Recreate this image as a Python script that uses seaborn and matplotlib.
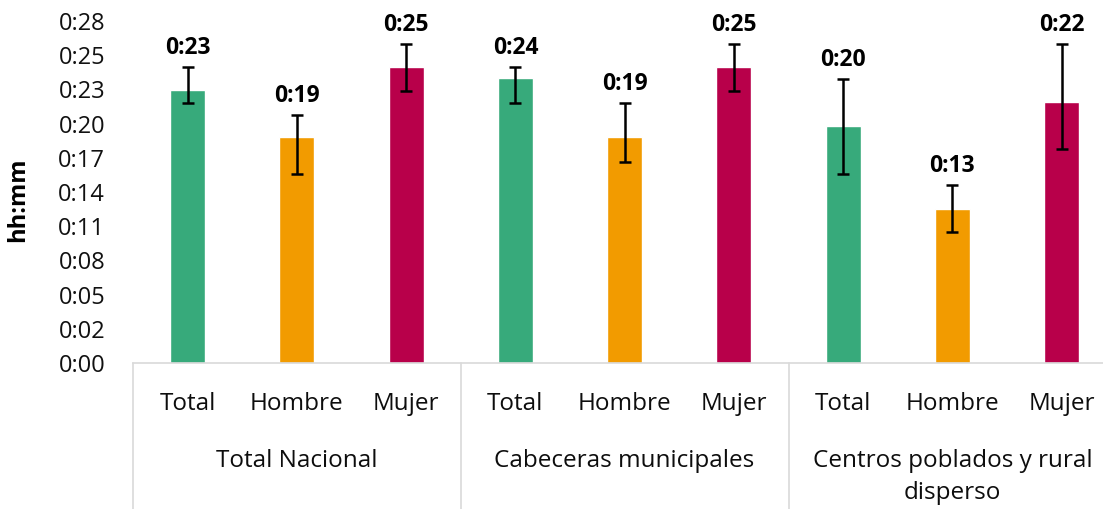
import matplotlib
matplotlib.use('Agg')
import matplotlib.pyplot as plt
import matplotlib.transforms as mtransforms
import seaborn as sns
import pandas as pd
import numpy as np

# datos (minutos)
grupos = ['Total Nacional', 'Cabeceras municipales', 'Centros poblados y rural\ndisperso']
sexos = ['Total', 'Hombre', 'Mujer']
valores = [23.0, 19.0, 24.9, 24.0, 19.0, 24.9, 20.0, 13.0, 22.0]
lim_inf = [21.9, 15.9, 22.9, 21.9, 16.9, 22.9, 15.9, 11.0, 18.0]
lim_sup = [24.9, 20.9, 26.9, 24.9, 21.9, 26.9, 23.9, 15.0, 26.9]
ytick_lbl = ['0:00', '0:02', '0:05', '0:08', '0:11', '0:14', '0:17', '0:20', '0:23', '0:25', '0:28']

colores = {'Total': '#37AA7B', 'Hombre': '#F29B00', 'Mujer': '#B8004A'}

sns.set_style('white')
plt.rcParams['font.family'] = ['Open Sans', 'DejaVu Sans']

df = pd.DataFrame({'grupo': np.repeat(grupos, 3), 'sexo': sexos * 3, 'min': valores})
df['slot'] = df['grupo'] + '|' + df['sexo']

fig = plt.figure(figsize=(11.03, 5.09), dpi=100)
ax = fig.add_axes([133 / 1103, 1 - 363 / 509, 983.25 / 1103, 342 / 509])

sns.barplot(data=df, x='slot', y='min', hue='sexo', palette=colores, dodge=False,
            width=0.32, saturation=1, errorbar=None, legend=False, ax=ax)

x = np.arange(len(valores))
v = np.array(valores)
ax.errorbar(x, v, yerr=[v - np.array(lim_inf), np.array(lim_sup) - v], fmt='none',
            ecolor='black', elinewidth=1.8, capsize=4.3, capthick=1.8)

for xi, hi, val in zip(x, lim_sup, valores):
    ax.annotate(f"0:{round(val):02d}", (xi, hi), xytext=(0, 5), textcoords='offset points',
                ha='center', va='bottom', fontsize=16.5, fontweight='bold', color='black')

ticks = np.arange(len(ytick_lbl)) * 2.88
ax.set_ylim(0, ticks[-1])
ax.set_yticks(ticks)
ax.set_yticklabels(ytick_lbl, fontsize=17, color='#111111')
ax.set_xlim(-0.5, 8.5)
ax.set_xticks(x)
ax.set_xticklabels(sexos * 3, fontsize=17.5, color='#0d0d0d')
ax.tick_params(axis='y', length=0, pad=20)
ax.tick_params(axis='x', length=0, pad=21)
ax.set_xlabel('')
ax.set_ylabel('')

for s in ['top', 'right', 'left']:
    ax.spines[s].set_visible(False)
ax.spines['bottom'].set_color('#d9d9d9')
ax.spines['bottom'].set_linewidth(1.2)

trans = mtransforms.blended_transform_factory(ax.transData, ax.transAxes)
for xb in [-0.5, 2.5, 5.5, 8.5]:
    ax.plot([xb, xb], [0, -0.5], transform=trans, color='#d9d9d9', lw=1.2, clip_on=False)

for i, g in enumerate(grupos):
    ax.text(3 * i + 1, -0.252, g, transform=trans, ha='center', va='top',
            fontsize=17.5, linespacing=1.45, color='#0d0d0d')

fig.text(18 / 1103, 1 - 200 / 509, 'hh:mm', rotation=90, ha='center', va='center',
         fontsize=17, fontweight='bold', color='black')

fig.savefig('out.png', dpi=100)
